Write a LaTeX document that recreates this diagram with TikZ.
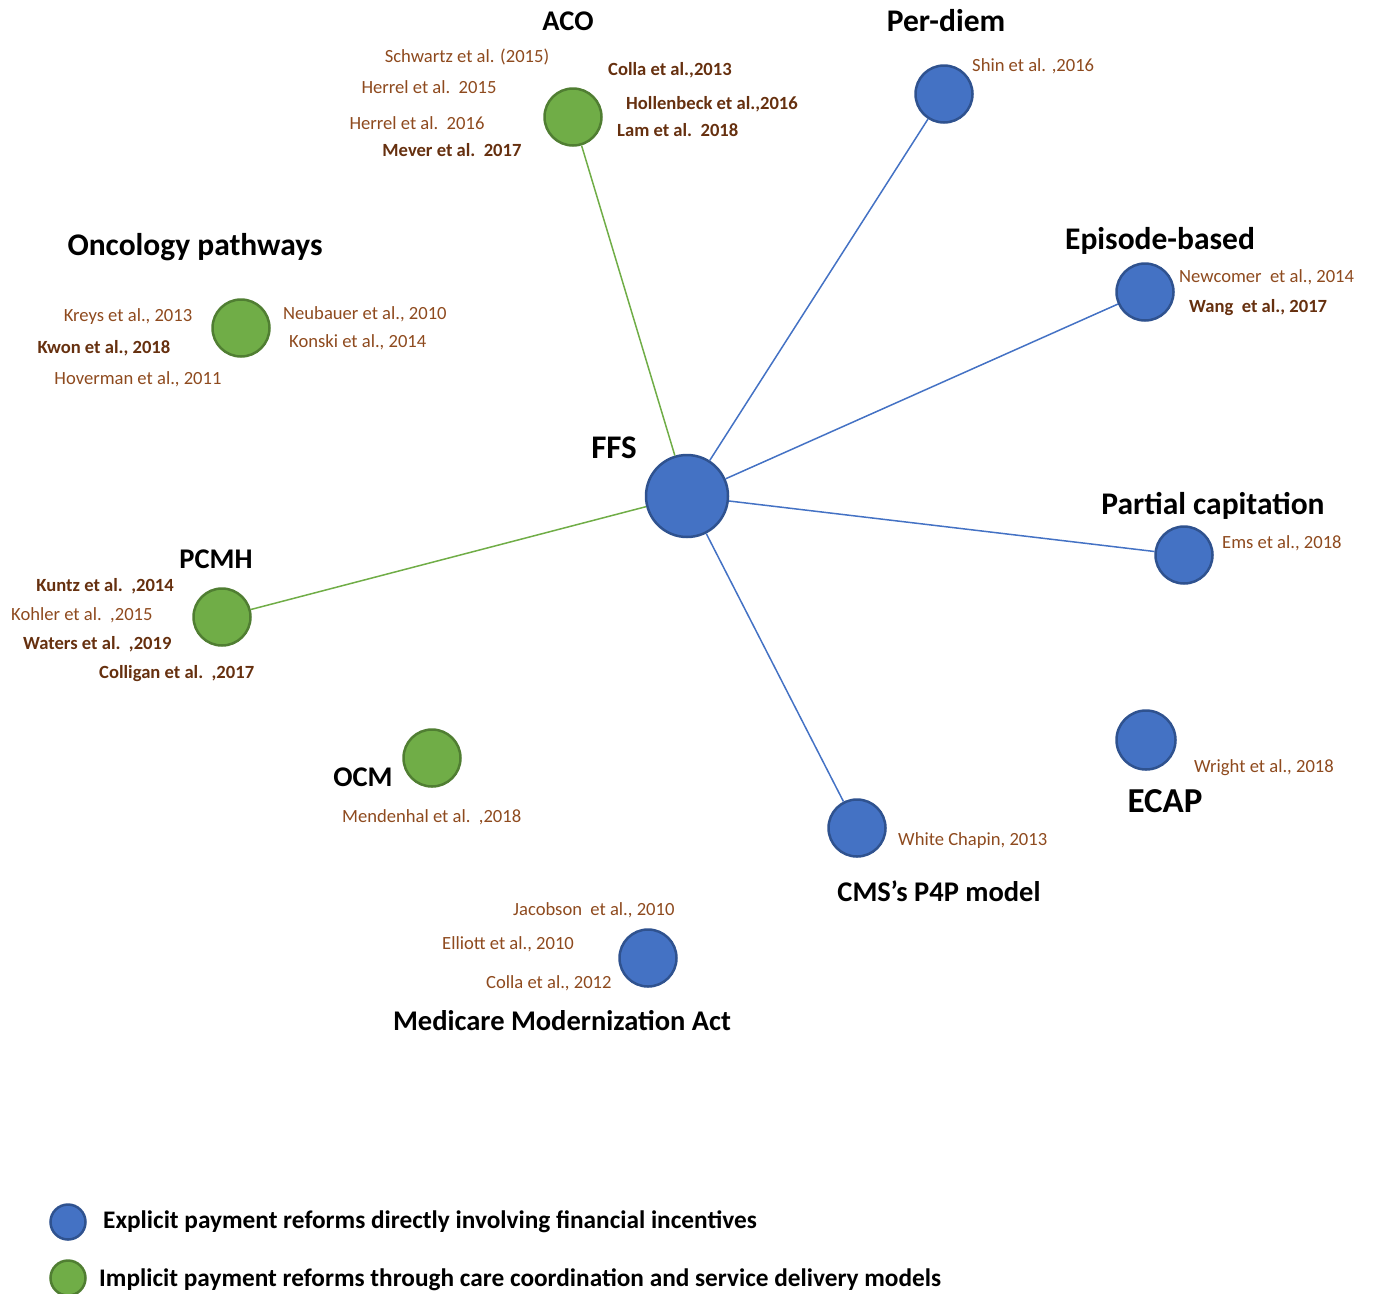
\documentclass[tikz,border=0pt]{standalone}
\usepackage{fontspec}
\setmainfont{Carlito}
\definecolor{bfill}{HTML}{4472C4}
\definecolor{bdraw}{HTML}{2F528F}
\definecolor{gfill}{HTML}{70AD47}
\definecolor{gdraw}{HTML}{507E32}
\definecolor{citec}{HTML}{8E4A1E}
\definecolor{citeb}{HTML}{66300F}
\begin{document}
\begin{tikzpicture}[x=1pt,y=-1pt,
  bnode/.style={circle,draw=bdraw,fill=bfill,line width=2.5pt,inner sep=0pt,minimum size=57pt},
  gnode/.style={circle,draw=gdraw,fill=gfill,line width=2.5pt,inner sep=0pt,minimum size=57pt},
  bline/.style={draw=bfill,line width=1.5pt},
  gline/.style={draw=gfill,line width=1.5pt},
  ttl/.style={inner sep=0pt,font=\fontsize{28.5}{30}\selectfont\bfseries},
  ttlL/.style={inner sep=0pt,font=\fontsize{31.5}{33}\selectfont\bfseries},
  cite/.style={inner sep=0pt,text=citec,font=\fontsize{18.6}{20}\selectfont},
  citeB/.style={inner sep=0pt,text=citeb,font=\fontsize{18.6}{20}\selectfont\bfseries},
  leg/.style={inner sep=0pt,anchor=west,font=\fontsize{25.3}{28}\selectfont\bfseries}
]
\useasboundingbox (0,0) rectangle (1375,1293);
% nodes
\node[bnode,minimum size=82pt] (ffs) at (687,496) {};
\node[gnode] (aco) at (573,117) {};
\node[bnode] (per) at (944,94) {};
\node[bnode] (epi) at (1145,292) {};
\node[bnode] (pc) at (1184,555) {};
\node[bnode,minimum size=59pt] (ecap) at (1146,740) {};
\node[bnode] (cms) at (857,828) {};
\node[bnode] (mma) at (648,958) {};
\node[gnode] (ocm) at (432,758) {};
\node[gnode] (pcmh) at (222,617) {};
\node[gnode] (onc) at (241,328) {};
% connectors
\draw[gline] (ffs) -- (aco);
\draw[bline] (ffs) -- (per);
\draw[bline] (ffs) -- (epi);
\draw[bline] (ffs) -- (pc);
\draw[bline] (ffs) -- (cms);
\draw[gline] (ffs) -- (pcmh);
% titles
\node[ttl] (tAco) at (568,21) {ACO};
\node[ttlL] (tPer) at (946,21) {Per-diem};
\node[ttlL] (tOnc) at (195,247) {Oncology pathways};
\node[ttlL] (tEpi) at (1160,241) {Episode-based};
\node[ttl,font=\fontsize{33}{35}\selectfont\bfseries] (tFfs) at (614,448) {FFS};
\node[ttlL] (tPc) at (1213,506) {Partial capitation};
\node[ttl] (tPcmh) at (216,559) {PCMH};
\node[ttl] (tOcm) at (363,777) {OCM};
\node[ttl,font=\fontsize{35}{37}\selectfont\bfseries] (tEcap) at (1165,801) {ECAP};
\node[ttl] (tCms) at (939,891) {CMS’s P4P model};
\node[ttl] (tMma) at (562,1021) {Medicare Modernization Act};
% citations
\node[cite] (c1) at (467,57) {Schwartz et al. (2015)};
\node[cite] (c2) at (429,87) {Herrel et al.~~2015};
\node[cite] (c3) at (417,123) {Herrel et al.~~2016};
\node[citeB] (c4) at (452,150) {Mever et al.~~2017};
\node[citeB,anchor=west] (c5) at (608,70) {Colla et al.,2013};
\node[citeB,anchor=west] (c6) at (626,104) {Hollenbeck et al.,2016};
\node[citeB,anchor=west] (c7) at (617,130) {Lam et al.~~2018};
\node[cite,anchor=west] (c8) at (972,66) {Shin et al. ,2016};
\node[cite,anchor=west] (c9) at (1179,277) {Newcomer~~et al., 2014};
\node[citeB,anchor=west] (c10) at (1189,308) {Wang~~et al., 2017};
\node[cite] (c11) at (128,317) {Kreys et al., 2013};
\node[citeB] (c12) at (104,348) {Kwon et al., 2018};
\node[cite] (c13) at (138,379) {Hoverman et al., 2011};
\node[cite,anchor=west] (c14) at (283,314) {Neubauer et al., 2010};
\node[cite,anchor=west] (c15) at (289,342) {Konski et al., 2014};
\node[cite,anchor=west] (c16) at (1222,543) {Ems et al., 2018};
\node[citeB,anchor=east] (c17) at (174,586) {Kuntz et al.~~,2014};
\node[cite,anchor=west] (c18) at (11,615) {Kohler et al.~~,2015};
\node[citeB,anchor=west] (c19) at (23,644) {Waters et al.~~,2019};
\node[citeB,anchor=west] (c20) at (99,674) {Colligan et al.~~,2017};
\node[cite,anchor=west] (c21) at (342,817) {Mendenhal et al.~~,2018};
\node[cite,anchor=west] (c22) at (898,841) {White Chapin, 2013};
\node[cite,anchor=west] (c23) at (1194,768) {Wright et al., 2018};
\node[cite,anchor=west] (c24) at (513,910) {Jacobson~~et al., 2010};
\node[cite,anchor=west] (c25) at (442,944) {Elliott et al., 2010};
\node[cite,anchor=west] (c26) at (486,983) {Colla et al., 2012};
% legend
\node[bnode,minimum size=35pt] (lb) at (68,1222) {};
\node[gnode,minimum size=35pt] (lg) at (68,1278) {};
\node[leg] (lt1) at (103,1222) {Explicit payment reforms directly involving financial incentives};
\node[leg] (lt2) at (99,1280) {Implicit payment reforms through care coordination and service delivery models};
\end{tikzpicture}
\end{document}
